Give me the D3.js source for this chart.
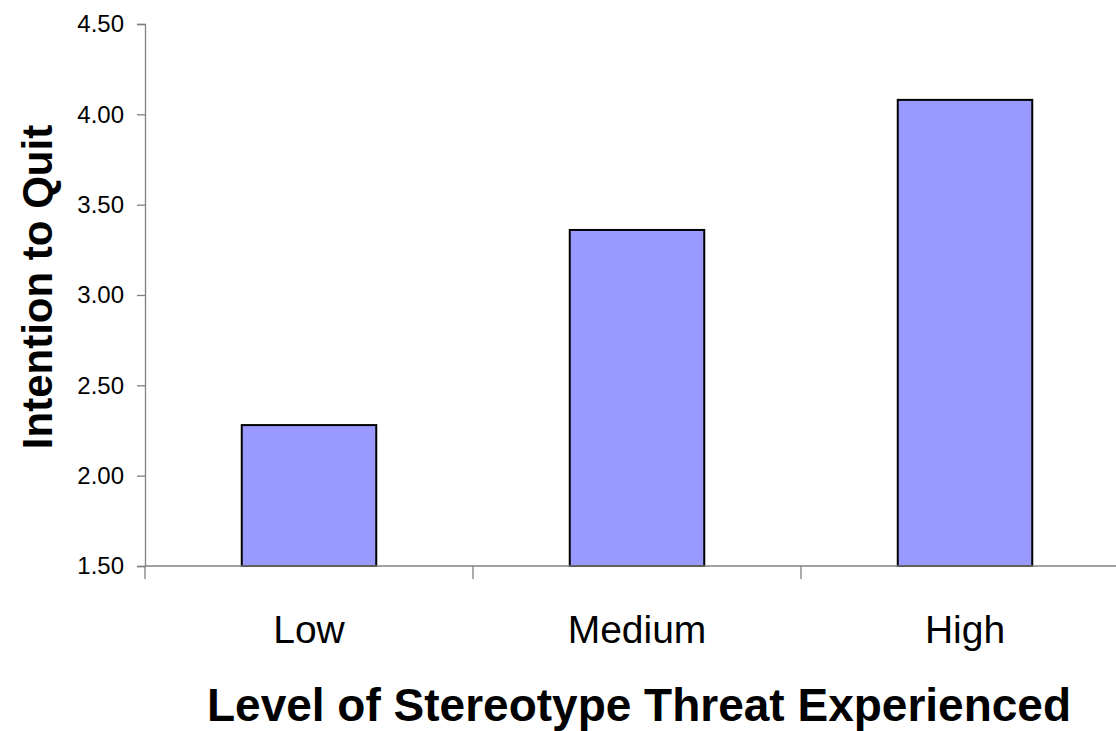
<!DOCTYPE html>
<html>
<head>
<meta charset="utf-8">
<script src="https://cdn.jsdelivr.net/npm/d3@7"></script>
<style>
  html, body { margin: 0; padding: 0; background: #fff; }
  svg { display: block; font-family: "Liberation Sans", Arial, sans-serif; }
</style>
</head>
<body>
<svg id="chart" width="1116" height="731"></svg>
<script>
// Mean intention to quit by level of stereotype threat
const categories = ["Low", "Medium", "High"];
const values = [2.28, 3.36, 4.08];
const yTicks = [1.5, 2.0, 2.5, 3.0, 3.5, 4.0, 4.5];
const xTitle = "Level of Stereotype Threat Experienced";
const yTitle = "Intention to Quit";

const svg = d3.select("#chart");
const plotLeft = 145, plotRight = 1129, plotTop = 24, plotBottom = 566;

const x = d3.scaleBand().domain(categories).range([plotLeft, plotRight])
  .paddingInner(0.59).paddingOuter(0.295);
const y = d3.scaleLinear().domain([1.5, 4.5]).range([plotBottom, plotTop]);

const axisColor = "#808080";

// bars
svg.append("g").selectAll("rect").data(categories).join("rect")
  .attr("x", d => x(d))
  .attr("y", (d, i) => y(values[i]))
  .attr("width", x.bandwidth())
  .attr("height", (d, i) => y(1.5) - y(values[i]))
  .attr("fill", "#9999FF")
  .attr("stroke", "#000")
  .attr("stroke-width", 2);

// y axis
const yAxis = svg.append("g").attr("transform", `translate(${plotLeft},0)`)
  .call(d3.axisLeft(y).tickValues(yTicks).tickFormat(d3.format(".2f")).tickSize(8).tickPadding(13));
yAxis.select(".domain").attr("stroke", axisColor).attr("stroke-width", 1.3);
yAxis.selectAll(".tick line").attr("stroke", axisColor).attr("stroke-width", 1.3);
yAxis.selectAll(".tick text").attr("fill", "#000").style("font-size", "24px")
  .style("font-family", "'Liberation Sans', Arial, sans-serif");

// x axis: ticks at category boundaries
const step = x.step();
const boundaries = d3.range(categories.length + 1).map(i => plotLeft + i * step);
const xg = svg.append("g");
xg.append("line").attr("x1", plotLeft).attr("x2", plotRight).attr("y1", plotBottom).attr("y2", plotBottom)
  .attr("stroke", axisColor).attr("stroke-width", 1.3);
xg.selectAll("line.tick").data(boundaries).join("line").attr("class", "tick")
  .attr("x1", d => d).attr("x2", d => d).attr("y1", plotBottom).attr("y2", plotBottom + 13)
  .attr("stroke", axisColor).attr("stroke-width", 1.3);
xg.selectAll("text").data(categories).join("text")
  .attr("x", d => x(d) + x.bandwidth() / 2)
  .attr("y", 643)
  .attr("text-anchor", "middle")
  .style("font-size", "39px")
  .text(d => d);

// axis titles
svg.append("text").attr("x", 639).attr("y", 721).attr("text-anchor", "middle")
  .style("font-size", "46px").style("font-weight", "bold").text(xTitle);
svg.append("text").attr("transform", "translate(52,287) rotate(-90)").attr("text-anchor", "middle")
  .style("font-size", "42px").style("font-weight", "bold").text(yTitle);
</script>
</body>
</html>
